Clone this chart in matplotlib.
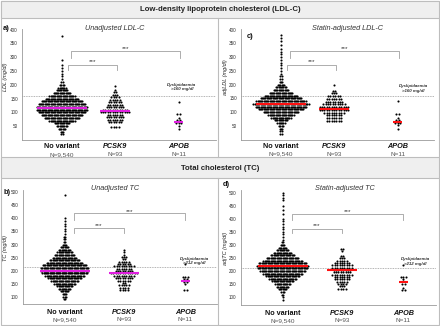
import numpy as np
import matplotlib
matplotlib.use("Agg")
import matplotlib.pyplot as plt
from matplotlib.patches import Rectangle

plt.rcParams["font.family"] = ["Liberation Sans", "DejaVu Sans"]

W, H = 440, 326

groups = ["No variant", "PCSK9", "APOB"]
group_n = ["N=9,540", "N=93", "N=11"]

# ---------------------------------------------------------------------------
# Data: dot rows (row value in mg/dl, dots drawn in row)
# ---------------------------------------------------------------------------

# a) unadjusted LDL-C
ldl_nv_y = [20, 30, 40, 50, 60, 70, 80, 90, 100, 110, 120, 130, 140, 150, 160,
            170, 180, 190, 200, 210, 220, 230, 240, 250, 260, 270, 290, 375]
ldl_nv_n = [2, 3, 6, 9, 13, 22, 30, 35, 40, 43, 43, 40, 35, 28, 22,
            15, 10, 7, 4, 2, 1, 1, 1, 1, 1, 1, 1, 1]
ldl_pc_y = [47, 66, 74, 83, 92, 101, 110, 119, 128, 137, 146, 155, 164, 173, 182, 196]
ldl_pc_n = [4, 6, 7, 8, 7, 13, 11, 8, 7, 6, 5, 4, 3, 2, 1, 1]
ldl_ap_y = [40, 51, 62, 72, 78, 93, 137]
ldl_ap_n = [1, 1, 3, 2, 1, 2, 1]
ldl_means = [115, 105, 65]

# c) statin-adjusted LDL-C
adjldl_nv_y = [20, 30, 40, 50, 60, 70, 80, 90, 100, 110, 120, 130, 140, 150, 160,
               170, 180, 190, 200, 210, 220, 230, 240, 250, 260, 270, 280, 290,
               300, 310, 320, 330, 345, 360, 370, 380, 415]
adjldl_nv_n = [2, 2, 3, 4, 7, 11, 17, 22, 30, 38, 43, 47, 42, 35, 28,
               20, 13, 9, 6, 3, 2, 2, 1, 1, 1, 1, 1, 1,
               1, 1, 1, 1, 1, 1, 1, 1, 1]
adjldl_pc_y = [68, 78, 88, 98, 108, 118, 128, 138, 148, 158, 168, 178, 198]
adjldl_pc_n = [7, 7, 7, 9, 13, 13, 10, 8, 7, 6, 3, 2, 1]
adjldl_ap_y = [38, 52, 60, 70, 77, 92, 139]
adjldl_ap_n = [1, 1, 3, 2, 1, 2, 1]
adjldl_means = [128, 112, 63]

# b) unadjusted TC
tc_nv_y = [90, 100, 110, 120, 130, 140, 150, 160, 170, 180, 190, 200, 210, 220,
           230, 240, 250, 260, 270, 280, 290, 300, 310, 320, 330, 340, 350, 360,
           370, 380, 390, 400, 490]
tc_nv_n = [2, 3, 4, 7, 10, 13, 18, 23, 28, 33, 38, 40, 40, 37,
           30, 25, 20, 17, 13, 10, 7, 4, 2, 2, 2, 1, 1, 1,
           1, 1, 1, 1, 1]
tc_pc_y = [126, 135, 144, 153, 162, 171, 180, 189, 198, 207, 216, 225, 234, 243,
           252, 261, 270, 279]
tc_pc_n = [4, 4, 5, 2, 6, 8, 9, 12, 8, 7, 9, 6, 5, 2, 3, 1, 1, 1]
tc_ap_y = [127, 150, 158, 168, 177, 224]
tc_ap_n = [2, 1, 2, 2, 3, 1]
tc_means = [200, 192, 160]

# d) statin-adjusted TC
adjtc_nv_y = [90, 100, 110, 120, 130, 140, 150, 160, 170, 180, 190, 200, 210, 220,
              230, 240, 250, 260, 270, 280, 290, 300, 310, 320, 330, 340, 350, 360,
              370, 380, 390, 400, 420, 435, 450, 470, 480, 490, 500]
adjtc_nv_n = [1, 1, 2, 3, 7, 10, 13, 18, 23, 28, 33, 38, 42, 43,
              40, 33, 27, 20, 15, 10, 7, 4, 2, 1, 1, 1, 1, 1,
              1, 1, 1, 1, 1, 1, 1, 1, 1, 1, 1]
adjtc_pc_y = [132, 141, 150, 159, 168, 177, 186, 195, 204, 213, 222, 231, 240, 249,
              258, 276, 285]
adjtc_pc_n = [4, 3, 4, 5, 7, 7, 9, 8, 8, 9, 9, 7, 5, 3, 2, 1, 2]
adjtc_ap_y = [126, 134, 152, 160, 168, 177, 224]
adjtc_ap_n = [2, 1, 2, 1, 1, 3, 1]
adjtc_means = [218, 205, 158]

ldl_ticks = [50, 100, 150, 200, 250, 300, 350, 400]
tc_ticks = [100, 150, 200, 250, 300, 350, 400, 450, 500]

MAGENTA = "#e020e0"
RED = "#ff1010"
PX_PER_UNIT = 53.0

fig = plt.figure(figsize=(W / 100, H / 100), dpi=100)

# background: frame, header bands, dividers (pixel coordinates)
bg = fig.add_axes([0, 0, 1, 1])
bg.set_xlim(0, W)
bg.set_ylim(H, 0)
bg.axis("off")
line_c = "#bdbdbd"
bg.add_patch(Rectangle((1, 1), W - 2, H - 2, fill=False, ec=line_c, lw=0.8))
bg.add_patch(Rectangle((1, 1), W - 2, 16.5, fc="#efefef", ec=line_c, lw=0.8))
bg.add_patch(Rectangle((1, 157), W - 2, 20.5, fc="#efefef", ec=line_c, lw=0.8))
bg.plot([218, 218], [17.5, 157], color=line_c, lw=0.8)
bg.plot([218, 218], [177.5, 325], color=line_c, lw=0.8)
bg.text(220, 9.5, "Low-density lipoprotein cholesterol (LDL-C)", ha="center",
        va="center", fontsize=5.6, fontweight="bold", color="#222")
bg.text(220, 168.5, "Total cholesterol (TC)", ha="center", va="center",
        fontsize=5.6, fontweight="bold", color="#222")


def add_panel(box, xleft, ylim, ticks, rows, means, mean_color, pos,
              threshold, thr_text, brackets, lab_off):
    x0, y0, x1, y1 = box
    ax = fig.add_axes([x0 / W, 1 - y1 / H, (x1 - x0) / W, (y1 - y0) / H])
    ax.set_facecolor("none")
    ax.set_xlim(xleft, xleft + (x1 - x0) / PX_PER_UNIT)
    ax.set_ylim(*ylim)
    for s in ["top", "right"]:
        ax.spines[s].set_visible(False)
    for s in ["left", "bottom"]:
        ax.spines[s].set_color("#9a9a9a")
        ax.spines[s].set_linewidth(0.6)
    ax.set_xticks([])
    ax.set_yticks(ticks)
    ax.tick_params(axis="y", length=0, pad=3, labelsize=3.3, labelcolor="#333")

    # threshold
    ax.axhline(threshold, color="#9a9a9a", lw=0.6, ls=(0, (1, 1)), zorder=1)

    spacings = [1.2, 2.4, 2.6]
    half_mean = [25, 15, 4.5]
    for gi, (ys, ns) in enumerate(rows):
        sp = spacings[gi] / PX_PER_UNIT
        xs, yy = [], []
        for yv, n in zip(ys, ns):
            offs = (np.arange(n) - (n - 1) / 2.0) * sp
            xs.extend(pos[gi] + offs)
            yy.extend([yv] * n)
        ax.scatter(xs, yy, s=2.3, marker="o", color="black", linewidths=0,
                   zorder=3)
        hw = half_mean[gi] / PX_PER_UNIT
        ax.plot([pos[gi] - hw, pos[gi] + hw], [means[gi], means[gi]],
                color=mean_color, lw=1.5, zorder=4, solid_capstyle="butt")

    # significance brackets
    for (xa, xb, top, leg, ystar) in brackets:
        ax.plot([xa, xa, xb, xb], [leg, top, top, leg], color="#a0a0a0",
                lw=0.6, zorder=2)
        ax.text((xa + xb) / 2, ystar, "***", ha="center", va="center",
                fontsize=4.6, color="#333")

    # threshold note
    tx, ty = thr_text
    ax.annotate("Dyslipidaemia\n>%d mg/dl" % threshold, xy=(tx, ty),
                xycoords="data", ha="center", va="center", fontsize=3.2,
                style="italic", fontweight="bold", color="#333",
                linespacing=1.1)

    # category labels
    for gi, (g, n) in enumerate(zip(groups, group_n)):
        style = "normal" if gi == 0 else "italic"
        ax.annotate(g, xy=(pos[gi], 0), xycoords=("data", "axes fraction"),
                    xytext=(0, -lab_off[0]), textcoords="offset points",
                    ha="center", va="center", fontsize=5.2, fontweight="bold",
                    style=style, color="#111")
        ax.annotate(n, xy=(pos[gi], 0), xycoords=("data", "axes fraction"),
                    xytext=(0, -lab_off[1]), textcoords="offset points",
                    ha="center", va="center", fontsize=4.6, color="#555")
    return ax


ldl_pos = [1.0, 2.0, 3.2]
tc_pos = [1.0, 2.12, 3.28]

ldl_brackets = [(1.12, 2.03, 271, 254, 284), (1.17, 3.22, 322, 296, 330)]
tc_brackets = [(1.18, 2.12, 362, 345, 374), (1.18, 3.27, 419, 394, 428)]

# a) unadjusted LDL-C
add_panel((22, 29, 216, 140), 0.245, (0, 402), ldl_ticks,
          [(ldl_nv_y, ldl_nv_n), (ldl_pc_y, ldl_pc_n), (ldl_ap_y, ldl_ap_n)],
          ldl_means, MAGENTA, ldl_pos, 160, (3.26, 192), ldl_brackets, (5, 10.5))
# c) statin-adjusted LDL-C
add_panel((241, 29, 434, 139.5), 0.245, (0, 402), ldl_ticks,
          [(adjldl_nv_y, adjldl_nv_n), (adjldl_pc_y, adjldl_pc_n),
           (adjldl_ap_y, adjldl_ap_n)],
          adjldl_means, RED, ldl_pos, 160, (3.5, 185), ldl_brackets, (5, 10.5))
# b) unadjusted TC
add_panel((22.7, 190, 217, 304), 0.21, (72, 509), tc_ticks,
          [(tc_nv_y, tc_nv_n), (tc_pc_y, tc_pc_n), (tc_ap_y, tc_ap_n)],
          tc_means, MAGENTA, tc_pos, 212, (3.45, 236), tc_brackets, (6, 11.5))
# d) statin-adjusted TC
add_panel((240.7, 190, 436, 305), 0.21, (70, 510), tc_ticks,
          [(adjtc_nv_y, adjtc_nv_n), (adjtc_pc_y, adjtc_pc_n),
           (adjtc_ap_y, adjtc_ap_n)],
          adjtc_means, RED, tc_pos, 212, (3.5, 236), tc_brackets, (6, 11.5))

# panel titles, letters and axis labels (pixel coordinates)
for (x, y, t) in [(115, 29, "Unadjusted LDL-C"), (347, 28.5, "Statin-adjusted LDL-C"),
                  (115, 188.5, "Unadjusted TC"), (345, 188, "Statin-adjusted TC")]:
    bg.text(x, y, t, ha="center", va="center", fontsize=5.2, style="italic",
            color="#333")
for (x, y, t) in [(6.5, 28, "a)"), (250, 36, "c)"), (7, 193, "b)"), (226, 185, "d)")]:
    bg.text(x, y, t, ha="center", va="center", fontsize=5.4, fontweight="bold",
            color="#111")
for (x, y, t) in [(6, 77, "LDL (mg/dl)"), (225.5, 77, "adjLDL (mg/dl)"),
                  (6, 248, "TC (mg/dl)"), (225.5, 248, "adjTC (mg/dl)")]:
    bg.text(x, y, t, ha="center", va="center", rotation=90, fontsize=4.0,
            style="italic", color="#222")

fig.savefig("out.png", dpi=100)
